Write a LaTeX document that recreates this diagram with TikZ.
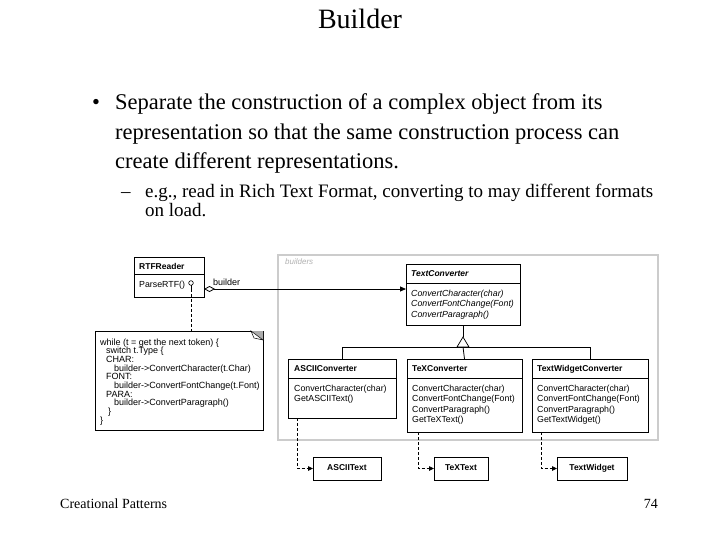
\documentclass[tikz,border=0pt]{standalone}
\usepackage{fontspec}
\setmainfont{Liberation Serif}
\newfontfamily\dsans{Liberation Sans}
\usetikzlibrary{arrows.meta}
\tikzset{
  box/.style={draw, line width=0.8pt, anchor=north west, inner sep=0pt, outer sep=0pt},
  dtxt/.style={anchor=base west, inner sep=0pt, font=\dsans\fontsize{8.8}{10}\selectfont},
  itxt/.style={anchor=base west, inner sep=0pt, font=\dsans\itshape\fontsize{8.8}{10}\selectfont},
  dhead/.style={anchor=base west, inner sep=0pt, font=\dsans\bfseries\fontsize{8.5}{10}\selectfont},
  ntxt/.style={anchor=base west, inner sep=0pt, font=\dsans\fontsize{9}{10}\selectfont},
  divider/.style={line width=0.6pt},
  conn/.style={line width=0.8pt},
  dep/.style={line width=0.8pt, dash pattern=on 3pt off 2pt},
  tip/.style={-{Triangle[length=5pt,width=4.5pt]}},
  slide1/.style={anchor=base west, inner sep=0pt, font=\fontsize{22.5}{27}\selectfont},
  slide2/.style={anchor=base west, inner sep=0pt, font=\fontsize{19}{22}\selectfont},
  foot/.style={anchor=base west, inner sep=0pt, font=\fontsize{14}{16}\selectfont},
}
\begin{document}
\begin{tikzpicture}[x=1pt,y=-1pt]
\useasboundingbox[fill=white] (0,0) rectangle (720,540);

% Title and text
\node[anchor=base, inner sep=0pt, font=\fontsize{28}{32}\selectfont] (title) at (360,29) {Builder};
\node[slide1] (b1) at (92,110) {•};
\node[slide1] (l1) at (115,110) {Separate the construction of a complex object from its};
\node[slide1] (l2) at (115,140) {representation so that the same construction process can};
\node[slide1] (l3) at (115,169) {create different representations.};
\node[slide2] (b2) at (121,197) {–};
\node[slide2] (l4) at (145,197) {e.g., read in Rich Text Format, converting to may different formats};
\node[slide2] (l5) at (145,217) {on load.};
\node[foot] (f1) at (60,508) {Creational Patterns};
\node[foot, anchor=base east] (f2) at (658,508) {74};

% package
\draw[line width=2pt, gray!40] (278,255) rectangle (658,440);
\node[anchor=base west, inner sep=0pt, font=\dsans\itshape\fontsize{8}{9}\selectfont, text=gray!60] (pkg) at (285,264) {builders};

% RTFReader
\node[box, minimum width=70pt, minimum height=40pt] (rtf) at (134,257) {};
\draw[divider] (134,274) -- (204,274);
\node[dhead] (rtfh) at (139,269) {RTFReader};
\node[dtxt] (rtfo) at (139,287) {ParseRTF()};
\draw[line width=0.6pt] (191,283) circle (2.3pt);
\coordinate (cb) at (191,285.3);
\coordinate (cstem) at (191,289);
\draw[line width=0.6pt] (cb) -- (cstem);

% TextConverter
\node[box, minimum width=114pt, minimum height=61pt] (tc) at (406,264) {};
\draw[divider] (406,283) -- (520,283);
\node[dhead, font=\dsans\bfseries\itshape\fontsize{8.5}{10}\selectfont] (tch) at (411,276) {TextConverter};
\node[itxt] (tc1) at (411,296) {ConvertCharacter(char)};
\node[itxt] (tc2) at (411,306.5) {ConvertFontChange(Font)};
\node[itxt] (tc3) at (411,317) {ConvertParagraph()};

% ASCIIConverter
\node[box, minimum width=108pt, minimum height=59pt] (ac) at (288,359) {};
\draw[divider] (288,378) -- (396,378);
\node[dhead] (ach) at (294,371) {ASCIIConverter};
\node[dtxt] (ac1) at (294,391) {ConvertCharacter(char)};
\node[dtxt] (ac2) at (294,401.5) {GetASCIIText()};

% TeXConverter
\node[box, minimum width=115pt, minimum height=73pt] (xc) at (407,359) {};
\draw[divider] (407,378) -- (522,378);
\node[dhead] (xch) at (412,371) {TeXConverter};
\node[dtxt] (xc1) at (412,391) {ConvertCharacter(char)};
\node[dtxt] (xc2) at (412,401.5) {ConvertFontChange(Font)};
\node[dtxt] (xc3) at (412,412) {ConvertParagraph()};
\node[dtxt] (xc4) at (412,422.5) {GetTeXText()};

% TextWidgetConverter
\node[box, minimum width=116pt, minimum height=73pt] (wc) at (532,359) {};
\draw[divider] (532,378) -- (648,378);
\node[dhead] (wch) at (537,371) {TextWidgetConverter};
\node[dtxt] (wc1) at (537,391) {ConvertCharacter(char)};
\node[dtxt] (wc2) at (537,401.5) {ConvertFontChange(Font)};
\node[dtxt] (wc3) at (537,412) {ConvertParagraph()};
\node[dtxt] (wc4) at (537,422.5) {GetTextWidget()};

% product boxes
\node[box, minimum width=68pt, minimum height=23pt] (at) at (313,457) {};
\node[dhead, anchor=mid] (atl) at (at.center) {ASCIIText};
\node[box, minimum width=54pt, minimum height=23pt] (tt) at (434,457) {};
\node[dhead, anchor=mid] (ttl) at (tt.center) {TeXText};
\node[box, minimum width=70pt, minimum height=23pt] (wt) at (557,457) {};
\node[dhead, anchor=mid] (wtl) at (wt.center) {TextWidget};

% aggregation builder
\coordinate (agg) at (204,289);
\draw[conn, {Diamond[open,length=11pt,width=6pt]}-{Triangle[length=6pt,width=5pt]}] (agg) -- (tc.west |- agg);
\node[anchor=base west, inner sep=0pt, font=\dsans\fontsize{9}{10}\selectfont] (bl) at (213,285) {builder};

% note
\coordinate (ntop) at (191,331);
\draw[dep] (cstem) -- (ntop);
\draw[line width=0.8pt] (95,331) -- (263,331) -- (263,430) -- (95,430) -- cycle;
\fill[gray!65] (251,331) -- (263,331) -- (263,340) -- cycle;
\draw[line width=0.5pt, fill=white] (251,331) -- (263,340) -- (254,338) -- cycle;
\node[ntxt] (n1) at (100,345) {while (t = get the next token) \{};
\node[ntxt] (n2) at (106,353.7) {switch t.Type \{};
\node[ntxt] (n3) at (106,362.4) {CHAR:};
\node[ntxt] (n4) at (114,371.1) {builder->ConvertCharacter(t.Char)};
\node[ntxt] (n5) at (106,379.8) {FONT:};
\node[ntxt] (n6) at (114,388.5) {builder->ConvertFontChange(t.Font)};
\node[ntxt] (n7) at (106,397.2) {PARA:};
\node[ntxt] (n8) at (114,405.9) {builder->ConvertParagraph()};
\node[ntxt] (n9) at (108,414.6) {\}};
\node[ntxt] (n10) at (100,423.3) {\}};

% inheritance
\coordinate (apex) at (tc.south |- 0,337);
\coordinate (bar) at (tc.south |- 0,347);
\draw[conn] (tc.south) -- (apex);
\draw[line width=0.7pt, fill=white] (apex) -- ++(-6,10) -- ++(12,0) -- cycle;
\draw[conn] (ac.north |- bar) -- (wc.north |- bar);
\draw[conn] (ac.north |- bar) -- (ac.north);
\draw[conn] (bar) -- (xc.north);
\draw[conn] (wc.north |- bar) -- (wc.north);

% dependencies
\coordinate (d1) at (297,418);
\coordinate (d2) at (418,432);
\coordinate (d3) at (541,432);
\draw[dep, tip] (d1) |- (at.west);
\draw[dep, tip] (d2) |- (tt.west);
\draw[dep, tip] (d3) |- (wt.west);
\end{tikzpicture}
\end{document}
